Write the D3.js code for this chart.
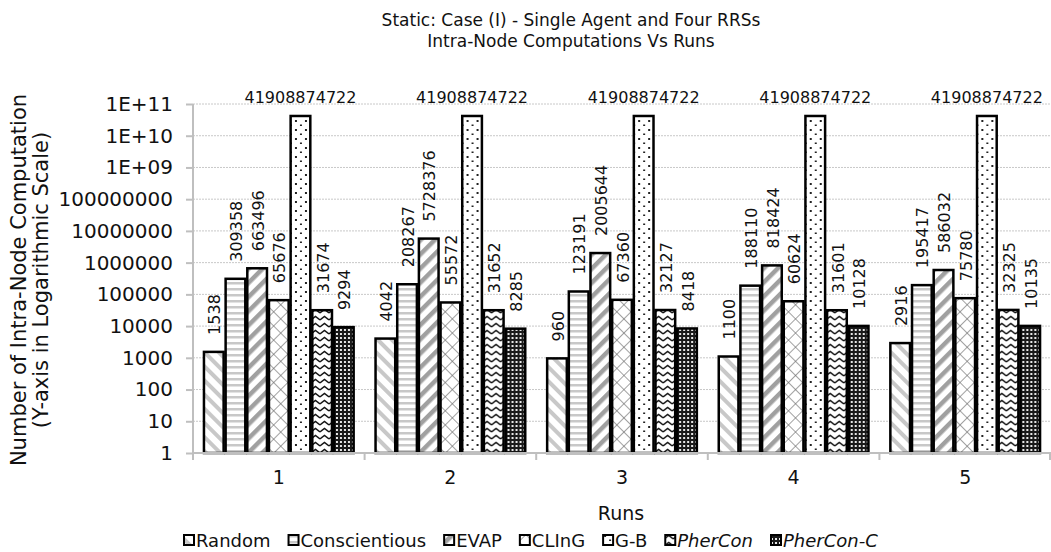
<!DOCTYPE html>
<html>
<head>
<meta charset="utf-8">
<script src="https://cdn.jsdelivr.net/npm/d3@7"></script>
<style>
  html, body { margin: 0; padding: 0; background: #fff; }
  svg { display: block; font-family: "DejaVu Sans", Verdana, sans-serif; }
</style>
</head>
<body>
<svg id="chart" width="1051" height="552"></svg>
<script>
// Runs on the x-axis
const runs = ["1", "2", "3", "4", "5"];
// Algorithms compared in each run
const seriesNames = ["Random", "Conscientious", "EVAP", "CLInG", "G-B", "PherCon", "PherCon-C"];
// Intra-node computations per algorithm, one entry per run
const random        = [1538, 4042, 960, 1100, 2916];
const conscientious = [309358, 208267, 123191, 188110, 195417];
const evap          = [663496, 5728376, 2005644, 818424, 586032];
const cling         = [65676, 55572, 67360, 60624, 75780];
const gb            = [41908874722, 41908874722, 41908874722, 41908874722, 41908874722];
const pherCon       = [31674, 31652, 32127, 31601, 32325];
const pherConC      = [9294, 8285, 8418, 10128, 10135];
// Y-axis tick values and their labels
const yTicks = [1, 10, 100, 1000, 10000, 100000, 1000000, 10000000, 100000000, 1e9, 1e10, 1e11];
const yTickLabels = ["1", "10", "100", "1000", "10000", "100000", "1000000", "10000000", "100000000", "1E+09", "1E+10", "1E+11"];

const seriesValues = [random, conscientious, evap, cling, gb, pherCon, pherConC];
const italicSeries = new Set(["PherCon", "PherCon-C"]);

const svg = d3.select("#chart");
const plot = { left: 193, right: 1051, top: 104, bottom: 453 };

// ---- fill patterns ----
const defs = svg.append("defs");
function pat(id, w, h, transform) {
  const p = defs.append("pattern").attr("id", id).attr("patternUnits", "userSpaceOnUse")
    .attr("width", w).attr("height", h);
  if (transform) p.attr("patternTransform", transform);
  p.append("rect").attr("width", w).attr("height", h).attr("fill", "#fff");
  return p;
}
// Random: light diagonal stripes falling to the right
pat("p-random", 10, 10, "rotate(-45)")
  .append("rect").attr("x", 0).attr("y", 0).attr("width", 4).attr("height", 10).attr("fill", "#c8c8c8");
// Conscientious: light horizontal stripes
pat("p-consc", 6, 6)
  .append("rect").attr("x", 0).attr("y", 0).attr("width", 6).attr("height", 2.5).attr("fill", "#c8c8c8");
// EVAP: wide diagonal stripes rising to the right
pat("p-evap", 10, 10, "rotate(45)")
  .append("rect").attr("x", 0).attr("y", 0).attr("width", 4.5).attr("height", 10).attr("fill", "#a0a0a0");
// CLInG: diagonal cross-hatch
{
  const p = pat("p-cling", 10, 10, "rotate(45)");
  p.append("line").attr("x1", 0).attr("y1", 0).attr("x2", 0).attr("y2", 10).attr("stroke", "#6e6e6e").attr("stroke-width", 1.3);
  p.append("line").attr("x1", 0).attr("y1", 0).attr("x2", 10).attr("y2", 0).attr("stroke", "#6e6e6e").attr("stroke-width", 1.3);
}
// G-B: sparse dots
{
  const p = pat("p-gb", 10, 9);
  p.append("rect").attr("x", 2).attr("y", 3).attr("width", 2).attr("height", 2).attr("fill", "#222");
  p.append("rect").attr("x", 7).attr("y", 7.5).attr("width", 2).attr("height", 2).attr("fill", "#222");
}
// PherCon: zigzag waves
pat("p-phercon", 9, 7)
  .append("path").attr("d", "M0,5 L4.5,1.5 L9,5").attr("fill", "none").attr("stroke", "#111").attr("stroke-width", 1.4);
// PherCon-C: dark with small white dots
{
  const p = pat("p-pherconc", 4, 4);
  p.select("rect").attr("fill", "#1a1a1a");
  p.append("rect").attr("x", 1).attr("y", 1).attr("width", 2).attr("height", 2).attr("fill", "#e8e8e8");
}
const fills = ["url(#p-random)", "url(#p-consc)", "url(#p-evap)", "url(#p-cling)", "url(#p-gb)", "url(#p-phercon)", "url(#p-pherconc)"];

// ---- scales ----
const x0 = d3.scaleBand().domain(runs).range([plot.left, plot.right]).paddingInner(0.116).paddingOuter(0.058);
const x1 = d3.scaleBand().domain(seriesNames).range([0, x0.bandwidth()]);
const y = d3.scaleLog().domain([1, 1e11]).range([plot.bottom, plot.top]);

// ---- gridlines ----
svg.append("g").selectAll("line").data(yTicks.slice(1)).join("line")
  .attr("x1", plot.left).attr("x2", plot.right)
  .attr("y1", d => y(d)).attr("y2", d => y(d))
  .attr("stroke", "#c8c8c8").attr("stroke-width", 1).attr("stroke-dasharray", "2,1");

// ---- bars ----
const groups = svg.append("g").selectAll("g").data(runs).join("g")
  .attr("transform", d => `translate(${x0(d)},0)`);
const barData = (r, i) => seriesNames.map((s, k) => ({ s, k, v: seriesValues[k][i] }));
groups.each(function (r, i) {
  const g = d3.select(this);
  const data = barData(r, i);
  g.selectAll("rect").data(data).join("rect")
    .attr("x", d => x1(d.s) + 1)
    .attr("y", d => y(d.v))
    .attr("width", x1.bandwidth() - 2)
    .attr("height", d => y(1) - y(d.v))
    .attr("fill", d => fills[d.k])
    .attr("stroke", "#000").attr("stroke-width", 2.5);
  // value labels
  data.forEach(d => {
    const cx = x1(d.s) + x1.bandwidth() / 2;
    if (d.s === "G-B") {
      g.append("text").attr("x", cx).attr("y", y(d.v) - 13)
        .attr("text-anchor", "middle").attr("font-size", 16).attr("fill", "#111").text(d.v);
    } else {
      g.append("text")
        .attr("transform", `translate(${cx + 1},${y(d.v) - 17}) rotate(-90)`)
        .attr("dy", "0.35em").attr("text-anchor", "start")
        .attr("font-size", 16).attr("fill", "#111").text(d.v);
    }
  });
});

// ---- axes ----
const axisColor = "#bfbfbf";
const xAxis = svg.append("g").attr("transform", `translate(0,${plot.bottom})`)
  .call(d3.axisBottom(x0).tickSize(0).tickPadding(18));
xAxis.select(".domain").remove();
xAxis.selectAll("text").attr("font-size", 19).attr("font-family", "DejaVu Sans").attr("fill", "#111");
svg.append("line").attr("x1", plot.left).attr("x2", plot.right).attr("y1", plot.bottom).attr("y2", plot.bottom)
  .attr("stroke", axisColor).attr("stroke-width", 2);
const step = (plot.right - plot.left) / runs.length;
svg.append("g").selectAll("line").data(d3.range(runs.length + 1)).join("line")
  .attr("x1", d => Math.min(plot.left + d * step, plot.right - 1)).attr("x2", d => Math.min(plot.left + d * step, plot.right - 1))
  .attr("y1", plot.bottom).attr("y2", plot.bottom + 7)
  .attr("stroke", axisColor).attr("stroke-width", 2);

const yAxis = svg.append("g").attr("transform", `translate(${plot.left},0)`)
  .call(d3.axisLeft(y).tickValues(yTicks).tickFormat((d, i) => yTickLabels[i]).tickSize(7).tickPadding(13));
yAxis.select(".domain").attr("stroke", axisColor).attr("stroke-width", 2).attr("d", `M0,${plot.top}V${plot.bottom}`);
yAxis.selectAll(".tick line").attr("stroke", axisColor).attr("stroke-width", 2);
yAxis.selectAll("text").attr("font-size", 20).attr("font-family", "DejaVu Sans").attr("fill", "#111");

// ---- titles ----
const title = svg.append("text").attr("text-anchor", "middle").attr("font-size", 17).attr("fill", "#111");
title.append("tspan").attr("x", 571).attr("y", 26).text("Static: Case (I) - Single Agent and Four RRSs");
title.append("tspan").attr("x", 571).attr("y", 47).text("Intra-Node Computations Vs Runs");

svg.append("text").attr("x", 621).attr("y", 520).attr("text-anchor", "middle")
  .attr("font-size", 19).attr("fill", "#111").text("Runs");

const yTitle = svg.append("text").attr("transform", "translate(0,280) rotate(-90)")
  .attr("text-anchor", "middle").attr("font-size", 21).attr("fill", "#111");
yTitle.append("tspan").attr("x", 0).attr("y", 26).text("Number of Intra-Node Computation");
yTitle.append("tspan").attr("x", 0).attr("y", 48).text("(Y-axis in Logarithmic Scale)");

// ---- legend ----
const legend = svg.append("g").attr("transform", "translate(183,541)");
let lx = 0;
seriesNames.forEach((s, k) => {
  const item = legend.append("g").attr("transform", `translate(${lx},0)`);
  item.append("rect").attr("x", 1).attr("y", -6).attr("width", 10).attr("height", 10)
    .attr("fill", fills[k]).attr("stroke", "#000").attr("stroke-width", 2);
  const t = item.append("text").attr("x", 13).attr("y", 0).attr("dy", "0.35em")
    .attr("font-size", 18).attr("fill", "#111").text(s);
  if (italicSeries.has(s)) t.attr("font-style", "italic");
  lx += 13 + t.node().getComputedTextLength() + 17;
});
</script>
</body>
</html>
